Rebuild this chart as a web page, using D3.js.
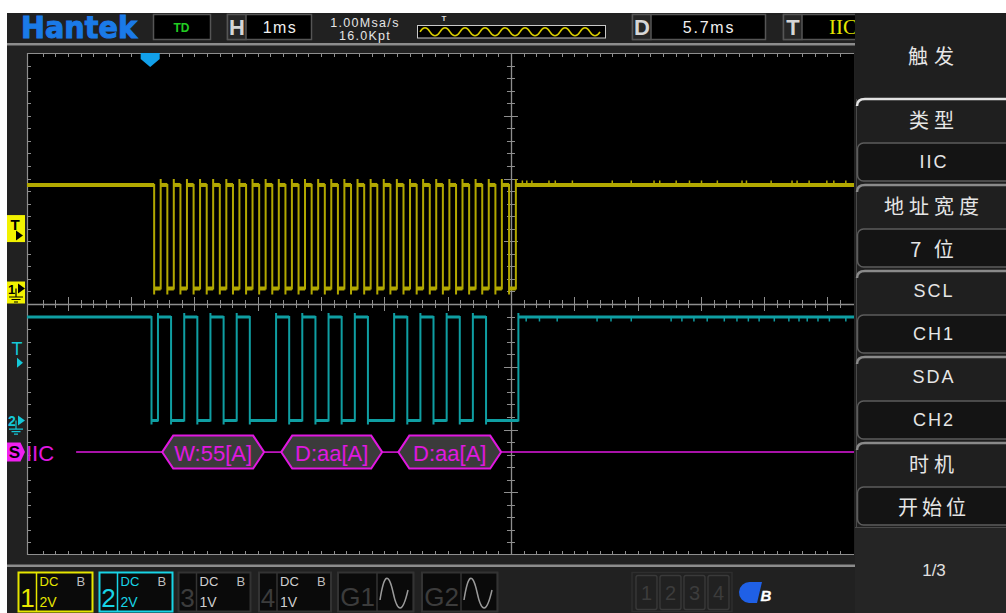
<!DOCTYPE html>
<html><head><meta charset="utf-8">
<script src="https://cdn.jsdelivr.net/npm/d3@7"></script>
<style>html,body{margin:0;padding:0;background:#fff;overflow:hidden}svg{display:block}</style>
</head><body><svg id="c" width="1006" height="613"></svg>
<script>
// ================= DATA =================
const timeDomain = [-1.946, 11.119];      // ms visible across the plot (trigger = 0)
const delayMs = 5.7;                       // D 5.7ms -> screen centre
const voltsPerDiv = [2, 2];                // CH1, CH2
const groundDiv = [0.247, -1.857];         // ground marker positions (div from centre)
const trigLevelV = [1.91, 2.1];            // trigger level markers (V)
const logicHigh = 3.3, logicLow = 0;

// SCL (CH1)
const sclIdleFall = 0.063;
const sclRise = [0.166,0.373,0.581,0.788,0.995,1.203,1.410,1.617,1.824,
                 2.032,2.239,2.446,2.654,2.861,3.068,3.276,3.483,3.690,
                 3.897,4.105,4.312,4.519,4.727,4.934,5.141,5.349,5.556];
const sclFall = [0.271,0.478,0.686,0.893,1.100,1.308,1.515,1.722,1.929,
                 2.137,2.344,2.551,2.759,2.966,3.173,3.381,3.588,3.795,
                 4.002,4.210,4.417,4.624,4.832,5.039,5.246,5.454,5.670];
const sclStopRise = 5.777;
const sclNoise = [5.88,5.95,6.03,6.30,6.40,6.67,7.30,7.60,7.96,8.05,8.31,8.52,8.71,8.96,9.35,9.42,9.81,10.14,10.22,10.41,10.69,10.80,10.99];

// SDA (CH2)
const sdaStartFall = 0.021;
const sdaChange = [0.123,0.330,0.538,0.745,0.952,1.160,1.367,1.574,1.781,
                   1.989,2.196,2.403,2.611,2.818,3.025,3.233,3.440,3.647,
                   3.854,4.062,4.269,4.476,4.684,4.891,5.098,5.306,5.513];
const sdaBits   = [1,0,1,0,1,0,1,0,0, 1,0,1,0,1,0,1,0,0, 1,0,1,0,1,0,1,0,0];
const sdaStopRise = 5.817;
const sdaNoise = [5.94,6.15,6.43,7.06,7.28,7.60,8.23,8.40,8.59,8.80,9.07,9.27,9.45,9.62,9.86,10.09,10.25,10.38,10.55,10.73,10.99];

// IIC decode bus
const busName = "IIC";
const busLabels = ["W:55[A]", "D:aa[A]", "D:aa[A]"];
const busStart = [0.19, 2.07, 3.92];
const busEnd   = [1.80, 3.665, 5.545];
const busLineStart = -1.17;
const busDiv = -2.36;

// header texts
const brand = "Hantek", modeText = "TD", timebase = "1ms", sampleRate = "1.00Msa/s", memDepth = "16.0Kpt";
const delayText = "5.7ms", trigTypeText = "IIC";

// menu
const menuTitle = "触发";
const menuLabels = ["类型", "地址宽度", "SCL", "SDA", "时机"];
const menuValues = ["IIC", "7 位", "CH1", "CH2", "开始位"];
const menuPage = "1/3";

// channel buttons
const chNames = ["1", "2", "3", "4"];
const chCoupling = ["DC", "DC", "DC", "DC"];
const chBw = ["B", "B", "B", "B"];
const chScale = ["2V", "2V", "1V", "1V"];
const genNames = ["G1", "G2"];
const indicatorNames = ["1", "2", "3", "4"];

// ================= DRAWING =================
const svg = d3.select("#c");
const W = 1006, H = 613;
const PL = 27, PR = 854, PT = 53, PB = 555;
const SANS = "'Liberation Sans', Arial, sans-serif";
const CJK = "'Noto Sans CJK SC', 'Liberation Sans', sans-serif";

svg.append("rect").attr("width", W).attr("height", H).attr("fill", "#fff");
svg.append("rect").attr("x", 7).attr("y", 13).attr("width", W - 7).attr("height", H - 13).attr("fill", "#212121");

const x = d3.scaleLinear().domain(timeDomain).range([PL, PR]);
const yDiv = d3.scaleLinear().domain([-4, 4]).range([PB, PT]);
const divPx = yDiv(0) - yDiv(1);
const yCh = i => d3.scaleLinear().domain([0, voltsPerDiv[i]]).range([yDiv(groundDiv[i]), yDiv(groundDiv[i]) - divPx]);
const y1 = yCh(0), y2 = yCh(1);

// ---- plot area
svg.append("rect").attr("x", PL).attr("y", PT).attr("width", PR - PL).attr("height", PB - PT).attr("fill", "#000");
svg.append("defs").append("clipPath").attr("id", "clip").append("rect")
  .attr("x", PL).attr("y", PT).attr("width", PR - PL).attr("height", PB - PT);

// ---- grid / axes
const grid = svg.append("g").attr("stroke", "#8e8e8e");
const tMin = timeDomain[0], tMax = timeDomain[1];
const minorT = d3.range(-60, 60).map(k => delayMs + k * 0.2).filter(t => t > tMin + 0.05 && t < tMax - 0.05);
const minorV = d3.range(-20, 21).map(k => k * 0.2).filter(v => v > -3.99 && v < 3.99);
const isMajor = v => Math.abs(v - Math.round(v)) < 1e-6;
const xc = x(delayMs), yc = yDiv(0);
grid.append("line").attr("x1", PL + 0.5).attr("x2", PL + 0.5).attr("y1", PT).attr("y2", PB).attr("stroke-width", 1.2);
grid.append("line").attr("x1", PL).attr("x2", PR).attr("y1", PT + 0.5).attr("y2", PT + 0.5).attr("stroke-width", 1.2);
grid.append("line").attr("x1", PL).attr("x2", PR).attr("y1", PB - 0.5).attr("y2", PB - 0.5).attr("stroke-width", 1.2);
minorT.forEach(t => {
  const xx = Math.round(x(t)) + 0.5;
  grid.append("line").attr("x1", xx).attr("x2", xx).attr("y1", PT).attr("y2", PT + 4);
  grid.append("line").attr("x1", xx).attr("x2", xx).attr("y1", PB).attr("y2", PB - 4);
});
minorV.forEach(v => {
  const yy = Math.round(yDiv(v)) + 0.5;
  grid.append("line").attr("x1", PL).attr("x2", PL + 4).attr("y1", yy).attr("y2", yy);
});
grid.append("line").attr("x1", Math.round(xc) + 0.5).attr("x2", Math.round(xc) + 0.5).attr("y1", PT).attr("y2", PB).attr("stroke-width", 1.3);
grid.append("line").attr("x1", PL).attr("x2", PR).attr("y1", Math.round(yc) + 0.5).attr("y2", Math.round(yc) + 0.5).attr("stroke-width", 1.3);
minorT.forEach(t => {
  const xx = Math.round(x(t)) + 0.5, len = isMajor(t - delayMs) ? 7 : 4;
  grid.append("line").attr("x1", xx).attr("x2", xx).attr("y1", yc - len).attr("y2", yc + len);
});
minorV.forEach(v => {
  const yy = Math.round(yDiv(v)) + 0.5, len = isMajor(v) ? 7 : 4;
  grid.append("line").attr("x1", xc - len).attr("x2", xc + len).attr("y1", yy).attr("y2", yy);
});

// ---- traces
const traces = svg.append("g").attr("clip-path", "url(#clip)");
function drawTrace(ev, y, color, hw, over) {
  let lv = logicHigh, prevT = tMin;
  const segs = [];
  let p = `M${x(tMin)},${y(lv)}`;
  ev.forEach(e => {
    segs.push([prevT, e.t, lv]);
    const xe = x(e.t);
    const tip = e.v > lv ? y(e.v) - over : y(e.v) + over;
    p += `L${xe},${y(lv)}L${xe},${tip}L${xe},${y(e.v)}`;
    lv = e.v; prevT = e.t;
  });
  segs.push([prevT, tMax, lv]);
  p += `L${x(tMax)},${y(lv)}`;
  traces.append("path").attr("d", p).attr("fill", "none").attr("stroke", color).attr("stroke-width", 2);
  traces.append("g").selectAll("line").data(segs).join("line")
    .attr("x1", d => x(d[0])).attr("x2", d => x(d[1]))
    .attr("y1", d => y(d[2])).attr("y2", d => y(d[2]))
    .attr("stroke", color).attr("stroke-width", hw);
}
const YEL = "#b2a800", TEAL = "#0f9ea2", MAG = "#e018e0";
const sclEv = [{ t: sclIdleFall, v: logicLow }];
sclRise.forEach((r, i) => { sclEv.push({ t: r, v: logicHigh }); sclEv.push({ t: sclFall[i], v: logicLow }); });
sclEv.push({ t: sclStopRise, v: logicHigh });
drawTrace(sclEv, y1, YEL, 4, 6);
traces.append("g").selectAll("line").data(sclNoise).join("line")
  .attr("x1", d => x(d)).attr("x2", d => x(d)).attr("y1", y1(logicHigh) - 1).attr("y2", y1(logicHigh) - 4.5)
  .attr("stroke", YEL).attr("stroke-width", 1.5);

const sdaEv = [{ t: sdaStartFall, v: logicLow }];
let lvl = logicLow;
sdaBits.forEach((b, i) => { const v = b ? logicHigh : logicLow; if (v !== lvl) { sdaEv.push({ t: sdaChange[i], v }); lvl = v; } });
sdaEv.push({ t: sdaStopRise, v: logicHigh });
drawTrace(sdaEv, y2, TEAL, 3, 4);
traces.append("g").selectAll("line").data(sdaNoise).join("line")
  .attr("x1", d => x(d)).attr("x2", d => x(d)).attr("y1", y2(logicHigh) + 1).attr("y2", y2(logicHigh) + 4.5)
  .attr("stroke", TEAL).attr("stroke-width", 1.5);

// ---- decode bus
const by = yDiv(busDiv), bh = 16.5, bk = 11;
const bus = svg.append("g").attr("clip-path", "url(#clip)");
const busGaps = [[busLineStart, busStart[0]]];
busStart.forEach((s, i) => busGaps.push([busEnd[i], i < busStart.length - 1 ? busStart[i + 1] : tMax]));
bus.selectAll("line").data(busGaps).join("line")
  .attr("x1", d => x(d[0])).attr("x2", d => x(d[1])).attr("y1", by).attr("y2", by)
  .attr("stroke", MAG).attr("stroke-width", 1.5);
busLabels.forEach((lab, i) => {
  const a = x(busStart[i]), b = x(busEnd[i]);
  bus.append("path").attr("d", `M${a},${by}L${a + bk},${by - bh}L${b - bk},${by - bh}L${b},${by}L${b - bk},${by + bh}L${a + bk},${by + bh}Z`)
    .attr("fill", "#3b3b3b").attr("stroke", MAG).attr("stroke-width", 2);
  bus.append("text").attr("x", (a + b) / 2).attr("y", by + 9).attr("text-anchor", "middle")
    .attr("font-family", SANS).attr("font-size", 22).attr("fill", MAG).text(lab);
});

// ---- left markers
const mk = svg.append("g");
const t1y = y1(trigLevelV[0]);
mk.append("rect").attr("x", 7).attr("y", t1y - 13.5).attr("width", 18).attr("height", 27).attr("fill", "#f2f200");
mk.append("text").attr("x", 15).attr("y", t1y + 1).attr("text-anchor", "middle").attr("font-family", SANS)
  .attr("font-weight", "bold").attr("font-size", 15).attr("fill", "#000").text("T");
mk.append("path").attr("d", `M16,${t1y + 2}L23,${t1y + 7}L16,${t1y + 12}Z`).attr("fill", "#000");
const g1y = y1(0);
mk.append("rect").attr("x", 7).attr("y", g1y - 7).attr("width", 18).attr("height", 22).attr("fill", "#f2f200");
mk.append("text").attr("x", 8).attr("y", g1y + 5).attr("font-family", SANS).attr("font-weight", "bold")
  .attr("font-size", 13).attr("fill", "#000").text("1");
mk.append("path").attr("d", `M18,${g1y - 5}L25,${g1y}L18,${g1y + 5}Z`).attr("fill", "#000");
mk.append("path").attr("d", `M16,${g1y}V${g1y + 8}M9,${g1y + 8.5}H23M11.5,${g1y + 11}H20.5M14,${g1y + 13.5}H18`)
  .attr("stroke", "#000").attr("stroke-width", 1.2).attr("fill", "none");
const t2y = y2(trigLevelV[1]);
mk.append("text").attr("x", 17).attr("y", t2y).attr("text-anchor", "middle").attr("font-family", SANS)
  .attr("font-size", 18).attr("fill", "#14c8d8").text("T");
mk.append("path").attr("d", `M17,${t2y + 3}L23,${t2y + 8}L17,${t2y + 13}Z`).attr("fill", "#14c8d8");
const g2y = y2(0);
mk.append("text").attr("x", 8).attr("y", g2y + 5).attr("font-family", SANS).attr("font-weight", "bold")
  .attr("font-size", 14).attr("fill", "#14c8d8").text("2");
mk.append("path").attr("d", `M18,${g2y - 5}L25,${g2y}L18,${g2y + 5}Z`).attr("fill", "#14c8d8");
mk.append("path").attr("d", `M16,${g2y}V${g2y + 8}M9,${g2y + 8.5}H23M11.5,${g2y + 11}H20.5M14,${g2y + 13.5}H18`)
  .attr("stroke", "#14c8d8").attr("stroke-width", 1.2).attr("fill", "none");
mk.append("path").attr("d", `M7,${by - 9.5}H20.5L25,${by}L20.5,${by + 9.5}H7Z`).attr("fill", "#f020f0");
mk.append("text").attr("x", 14.5).attr("y", by + 6).attr("text-anchor", "middle").attr("font-family", SANS)
  .attr("font-weight", "bold").attr("font-size", 17).attr("fill", "#000").text("S");
mk.append("text").attr("x", 26).attr("y", by + 9).attr("font-family", SANS).attr("font-size", 22).attr("fill", MAG).text(busName);
const tx = x(0);
mk.append("path").attr("d", `M${tx - 9.5},${PT}H${tx + 9.5}V${PT + 6}L${tx},${PT + 14}L${tx - 9.5},${PT + 6}Z`).attr("fill", "#12a0ea");

// ---- header
const hd = svg.append("g");
hd.append("rect").attr("x", 7).attr("y", 43).attr("width", 848).attr("height", 2.5).attr("fill", "#8c8c8c");
hd.append("rect").attr("x", 7).attr("y", 564.5).attr("width", 848).attr("height", 2.5).attr("fill", "#8c8c8c");
hd.append("text").attr("x", 21).attr("y", 37.5).attr("font-family", "'DejaVu Sans', sans-serif").attr("font-weight", "bold")
  .attr("font-size", 30).attr("fill", "#1a7ae8").attr("stroke", "#1a7ae8").attr("stroke-width", 1)
  .attr("textLength", 116).attr("lengthAdjust", "spacingAndGlyphs").text(brand);
function box(x0, w) { hd.append("rect").attr("x", x0 + 0.5).attr("y", 14.5).attr("width", w).attr("height", 25).attr("fill", "#000").attr("stroke", "#555").attr("stroke-width", 1.5); }
function cell(x0, letter) {
  hd.append("rect").attr("x", x0 + 0.5).attr("y", 14.5).attr("width", 18.5).attr("height", 25).attr("fill", "#262626").attr("stroke", "#555").attr("stroke-width", 1.5);
  hd.append("text").attr("x", x0 + 10).attr("y", 35).attr("text-anchor", "middle").attr("font-family", SANS)
    .attr("font-weight", "bold").attr("font-size", 22).attr("fill", "#d6d6d6").text(letter);
}
box(153, 57);
hd.append("text").attr("x", 181.5).attr("y", 31.5).attr("text-anchor", "middle").attr("font-family", SANS).attr("font-weight", "bold")
  .attr("font-size", 12).attr("fill", "#22cc22").text(modeText);
box(227, 84); cell(227, "H");
hd.append("text").attr("x", 280).attr("y", 33).attr("text-anchor", "middle").attr("font-family", SANS)
  .attr("font-size", 16).attr("letter-spacing", 1.5).attr("fill", "#f0f0f0").text(timebase);
hd.append("text").attr("x", 365).attr("y", 26.5).attr("text-anchor", "middle").attr("font-family", SANS)
  .attr("font-size", 12.5).attr("letter-spacing", 1.3).attr("fill", "#e6e6e6").text(sampleRate);
hd.append("text").attr("x", 365).attr("y", 40).attr("text-anchor", "middle").attr("font-family", SANS)
  .attr("font-size", 12.5).attr("letter-spacing", 1.3).attr("fill", "#e6e6e6").text(memDepth);
hd.append("text").attr("x", 444).attr("y", 21).attr("text-anchor", "middle").attr("font-family", SANS).attr("font-weight", "bold")
  .attr("font-size", 8).attr("fill", "#ddd").text("T");
hd.append("rect").attr("x", 417.5).attr("y", 25.5).attr("width", 188).attr("height", 12.5).attr("fill", "#000").attr("stroke", "#c8c8c8");
{
  const p = d3.path(); const cy = 31.8; p.moveTo(420, cy);
  for (let k = 0; k < 18; k++) { const a = 420 + k * 10; p.quadraticCurveTo(a + 5, k % 2 ? cy + 8 : cy - 8, a + 10, cy); }
  hd.append("path").attr("d", p.toString()).attr("fill", "none").attr("stroke", "#d8cc00").attr("stroke-width", 1.6);
}
box(632, 133); cell(632, "D");
hd.append("text").attr("x", 709).attr("y", 33).attr("text-anchor", "middle").attr("font-family", SANS)
  .attr("font-size", 16).attr("letter-spacing", 1.8).attr("fill", "#f0f0f0").text(delayText);
box(783, 90); cell(783, "T");
hd.append("text").attr("x", 829).attr("y", 34).attr("font-family", "'Liberation Serif', serif")
  .attr("font-size", 21).attr("fill", "#e4e400").text(trigTypeText);

// ---- right menu panel
const mp = svg.append("g");
mp.append("rect").attr("x", 855).attr("y", 13).attr("width", W - 855).attr("height", H - 13).attr("fill", "#1f1f1f");
mp.append("rect").attr("x", 855).attr("y", 527).attr("width", W - 855).attr("height", H - 527).attr("fill", "#252525");
mp.append("text").attr("x", 934).attr("y", 55).attr("text-anchor", "middle").attr("dominant-baseline", "central")
  .attr("font-family", CJK).attr("font-size", 20).attr("letter-spacing", 6).attr("fill", "#e6e6e6").text(menuTitle);
mp.append("line").attr("x1", 856.5).attr("x2", 856.5).attr("y1", 99).attr("y2", 527).attr("stroke", "#4a4a4a");
mp.append("line").attr("x1", 855).attr("x2", W).attr("y1", 527.5).attr("y2", 527.5).attr("stroke", "#4a4a4a");
menuLabels.forEach((lab, i) => {
  const top = 99 + 86 * i;
  mp.append("path").attr("d", `M857,${top + 7}Q857,${top} 865,${top}H${W}`).attr("fill", "none")
    .attr("stroke", i === 0 ? "#e2e2e2" : "#8a8a8a").attr("stroke-width", 2.5);
  const cjk = /[\u4e00-\u9fff]/.test(lab);
  mp.append("text").attr("x", 934).attr("y", top + 20).attr("text-anchor", "middle").attr("dominant-baseline", "central")
    .attr("font-family", cjk ? CJK : SANS).attr("font-size", cjk ? 20 : 18).attr("letter-spacing", cjk ? 5 : 2)
    .attr("fill", "#e6e6e6").text(lab);
  mp.append("rect").attr("x", 857.5).attr("y", top + 44).attr("width", 160).attr("height", 38).attr("rx", 6)
    .attr("fill", "#141414").attr("stroke", "#5c5c5c").attr("stroke-width", 1.5);
  const v = menuValues[i]; const cv = /[\u4e00-\u9fff]/.test(v);
  mp.append("text").attr("x", 934).attr("y", top + 63).attr("text-anchor", "middle").attr("dominant-baseline", "central")
    .attr("font-family", cv ? CJK : SANS).attr("font-size", cv ? 20 : 18).attr("letter-spacing", cv ? 4 : 2)
    .attr("fill", "#e6e6e6").text(v);
});
mp.append("text").attr("x", 934).attr("y", 570).attr("text-anchor", "middle").attr("dominant-baseline", "central")
  .attr("font-family", SANS).attr("font-size", 17).attr("fill", "#e0e0e0").text(menuPage);

// ---- bottom channel buttons
const bt = svg.append("g");
const chX = [18.5, 99.5, 178.5, 259], chW = [74, 73, 72, 72];
const chBorder = ["#e6e600", "#18d4e6", "#333", "#333"];
const chNumCol = ["#e6e600", "#18d4e6", "#3c3c3c", "#3c3c3c"];
const chTxtCol = ["#e6e600", "#18d4e6", "#cfcfcf", "#cfcfcf"];
chNames.forEach((n, i) => {
  const x0 = chX[i];
  bt.append("rect").attr("x", x0).attr("y", 572.5).attr("width", chW[i]).attr("height", 39).attr("fill", "#0a0a0a")
    .attr("stroke", chBorder[i]).attr("stroke-width", 2);
  bt.append("line").attr("x1", x0 + 18).attr("x2", x0 + 18).attr("y1", 572.5).attr("y2", 611.5).attr("stroke", chBorder[i]).attr("stroke-width", 1.5);
  bt.append("text").attr("x", x0 + 9).attr("y", 607).attr("text-anchor", "middle").attr("font-family", SANS)
    .attr("font-size", 26).attr("fill", chNumCol[i]).text(n);
  bt.append("text").attr("x", x0 + 21).attr("y", 586).attr("font-family", SANS).attr("font-size", 13).attr("fill", chTxtCol[i]).text(chCoupling[i]);
  bt.append("text").attr("x", x0 + 58).attr("y", 586).attr("font-family", SANS).attr("font-size", 13).attr("fill", "#bdbdbd").text(chBw[i]);
  bt.append("text").attr("x", x0 + 21).attr("y", 607).attr("font-family", SANS).attr("font-size", 14).attr("fill", chTxtCol[i]).text(chScale[i]);
});
const gX = [338, 422];
genNames.forEach((g, i) => {
  const x0 = gX[i];
  bt.append("rect").attr("x", x0).attr("y", 572.5).attr("width", 75.5).attr("height", 39).attr("fill", "#0a0a0a").attr("stroke", "#333").attr("stroke-width", 2);
  bt.append("rect").attr("x", x0 + 39).attr("y", 572.5).attr("width", 36.5).attr("height", 39).attr("fill", "none").attr("stroke", "#333").attr("stroke-width", 1.5);
  bt.append("text").attr("x", x0 + 19.5).attr("y", 606).attr("text-anchor", "middle").attr("font-family", SANS)
    .attr("font-size", 26).attr("fill", "#3c3c3c").text(g);
  const a = x0 + 42;
  bt.append("path").attr("d", `M${a},600Q${a + 6},561 ${a + 13},592Q${a + 20},625 ${a + 28},590`)
    .attr("fill", "none").attr("stroke", "#9a9a9a").attr("stroke-width", 1.5);
});
bt.append("rect").attr("x", 632).attr("y", 572.5).attr("width", 100).attr("height", 39).attr("fill", "none").attr("stroke", "#2e2e2e").attr("stroke-width", 1.5);
indicatorNames.forEach((n, i) => {
  const x0 = 636 + i * 24;
  bt.append("rect").attr("x", x0).attr("y", 575.5).attr("width", 21).attr("height", 34).attr("rx", 2).attr("fill", "none").attr("stroke", "#3a3a3a").attr("stroke-width", 1.3);
  bt.append("text").attr("x", x0 + 10.5).attr("y", 600).attr("text-anchor", "middle").attr("font-family", SANS)
    .attr("font-size", 20).attr("fill", "#3c3c3c").text(n);
});
bt.append("path").attr("d", "M750,582H762L757,603H749A10.5,10.5 0 0 1 750,582Z").attr("fill", "#1f60e6");
bt.append("text").attr("x", 766).attr("y", 601).attr("text-anchor", "middle").attr("font-family", SANS).attr("font-weight", "bold")
  .attr("font-style", "italic").attr("font-size", 15).attr("fill", "#fff").attr("stroke", "#fff").attr("stroke-width", 0.3).text("B");
</script></body></html>
